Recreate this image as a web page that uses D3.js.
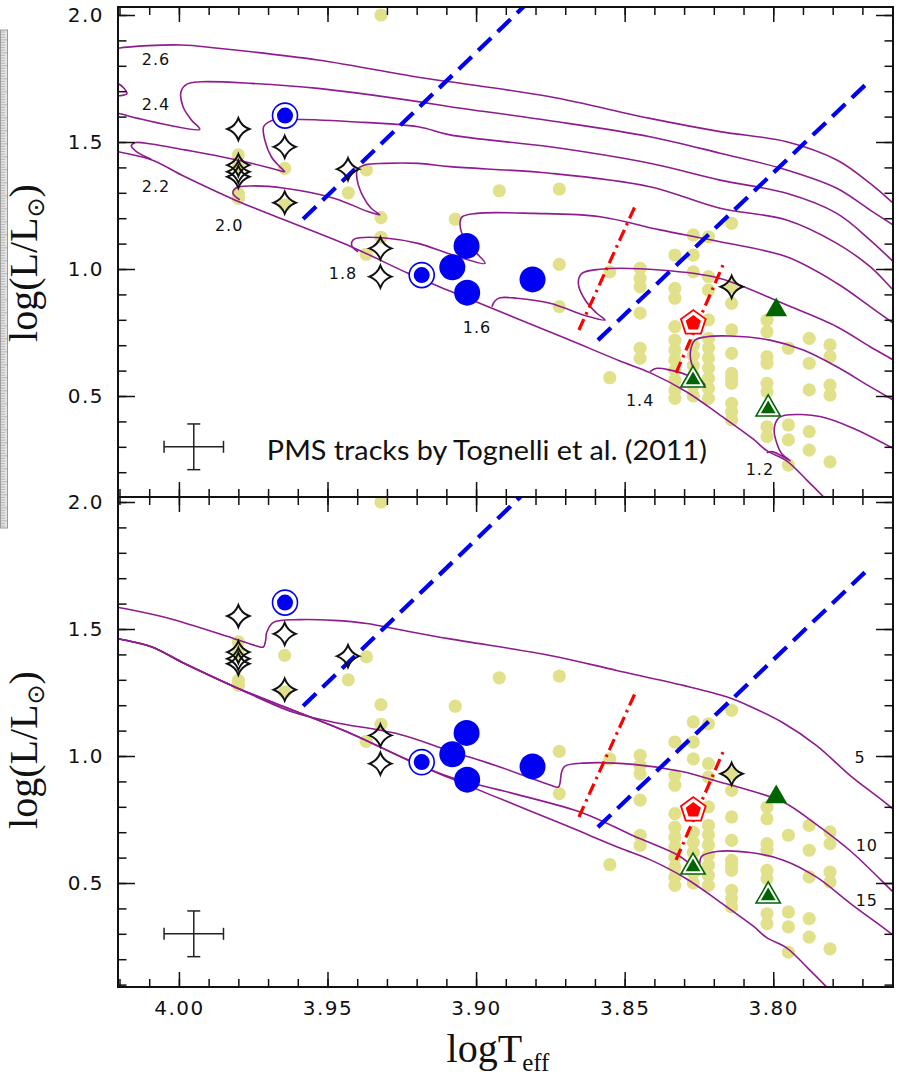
<!DOCTYPE html>
<html><head><meta charset="utf-8">
<script src="https://cdn.jsdelivr.net/npm/d3@7"></script>
<style>body{margin:0;background:#fff}</style>
</head><body>
<svg id="c" width="903" height="1081"></svg>
<script>
// ---------------- DATA ----------------
const xMajor = [4.00, 3.95, 3.90, 3.85, 3.80];
const yMajor = [0.5, 1.0, 1.5, 2.0];

const yellowDots = [
 [3.932,2.000],[3.980,1.449],[3.980,1.400],[3.980,1.298],[3.980,1.278],
 [3.9644,1.396],[3.9644,1.252],[3.9369,1.390],[3.943,1.300],[3.932,1.202],
 [3.932,1.125],[3.937,1.058],[3.907,1.196],[3.8922,1.308],[3.872,1.315],
 [3.872,1.018],[3.872,0.852],[3.855,0.989],[3.855,0.572],
 [3.8448,1.003],[3.8448,0.963],[3.8448,0.930],[3.8448,0.826],[3.8448,0.688],[3.8448,0.648],
 [3.8331,1.055],[3.8331,0.924],[3.8331,0.885],[3.8331,0.773],[3.8331,0.720],[3.8331,0.681],[3.8331,0.642],[3.8331,0.602],[3.8331,0.563],[3.8331,0.524],[3.8331,0.491],
 [3.8269,1.134],[3.8269,1.055],[3.8269,0.989],[3.8269,0.700],[3.8269,0.660],[3.8269,0.620],[3.8269,0.580],[3.8269,0.540],[3.8269,0.500],
 [3.8218,1.127],[3.8218,0.970],[3.8218,0.917],[3.8218,0.800],[3.8218,0.727],[3.8218,0.690],[3.8218,0.650],[3.8218,0.610],[3.8218,0.570],[3.8218,0.530],[3.8218,0.491],
 [3.8140,1.180],[3.8140,0.930],[3.8140,0.865],[3.8140,0.760],[3.8140,0.668],[3.8140,0.589],[3.8140,0.570],[3.8140,0.550],[3.8140,0.471],[3.8140,0.438],[3.8140,0.406],
 [3.8021,0.799],[3.8021,0.753],[3.8021,0.655],[3.8021,0.629],[3.8021,0.550],[3.8021,0.517],[3.8021,0.379],[3.8021,0.340],
 [3.7949,0.688],[3.7949,0.386],[3.7949,0.327],[3.7949,0.228],
 [3.7879,0.727],[3.7879,0.629],[3.7879,0.524],[3.7879,0.360],[3.7879,0.287],
 [3.7809,0.701],[3.7809,0.655],[3.7809,0.543],[3.7809,0.504],[3.7809,0.241]
];
const blueBig = [[3.9032,1.091],[3.908,1.007],[3.903,0.907],[3.881,0.959]];
const blueRing = [[3.9643,1.604],[3.9183,0.976]];
const stars = [[3.980,1.551],[3.9644,1.481],[3.980,1.409],[3.980,1.383],[3.980,1.363],
 [3.9644,1.261],[3.9431,1.393],[3.9322,1.081],[3.9322,0.970],[3.814,0.930]];
const pentagons = [[3.8269,0.787]];
const triFilled = [[3.799,0.839]];
const triRing = [[3.827,0.563],[3.8017,0.449]];
const errCenter = [3.995, 0.30];
const errSize = [0.01, 0.09];

const blueLine1 = [[3.9582,1.197],[3.8800,2.078]];
const blueLine2 = [[3.859,0.720],[3.768,1.736]];
const redLine1 = [[3.8654,0.760],[3.846,1.260]];
const redLine2 = [[3.8327,0.591],[3.8169,1.016]];

// PMS tracks (top panel)
const trk26 = [[3.754,1.20],[3.7596,1.259],[3.7674,1.337],[3.7786,1.429],[3.7955,1.501],[3.8179,1.541],[3.8415,1.593],[3.8751,1.678],[3.9088,1.737],[3.9195,1.755],[3.9532,1.823],[3.9868,1.869],[3.9993,1.882],[4.0205,1.869],[4.0262,1.850],[4.0280,1.800],[4.0250,1.745],[4.0205,1.730],[4.0185,1.712],[4.0175,1.690],[4.0200,1.682],[4.0260,1.672]];
const trk24 = [[3.754,1.13],[3.7596,1.173],[3.7674,1.232],[3.7786,1.318],[3.7955,1.390],[3.8179,1.456],[3.8415,1.521],[3.8751,1.584],[3.9088,1.639],[3.9195,1.659],[3.9532,1.711],[3.9756,1.731],[3.9925,1.737],[3.9973,1.728],[3.9993,1.698],[3.9986,1.639],[3.9958,1.587],[3.9930,1.550],[4.0037,1.567],[4.0138,1.593],[4.0205,1.613],[4.0266,1.626]];
const trk22 = [[3.754,0.967],[3.7596,1.029],[3.7674,1.114],[3.7786,1.219],[3.7955,1.298],[3.8179,1.350],[3.8415,1.416],[3.8751,1.481],[3.9088,1.528],[3.9195,1.560],[3.9420,1.580],[3.9644,1.589],[3.9689,1.584],[3.9715,1.560],[3.9711,1.508],[3.9689,1.442],[3.9661,1.403],[3.9644,1.383],[3.9678,1.393],[3.9756,1.416],[3.9869,1.445],[3.9981,1.469],[4.0093,1.492],[4.0149,1.497],[4.0160,1.484],[4.0143,1.462],[4.0093,1.432]];
const trk20 = [[3.754,0.85],[3.7596,0.917],[3.7674,1.009],[3.7786,1.101],[3.7955,1.193],[3.8179,1.239],[3.8415,1.324],[3.8751,1.377],[3.9088,1.403],[3.9195,1.416],[3.9308,1.416],[3.9375,1.409],[3.9400,1.390],[3.9400,1.350],[3.9380,1.285],[3.9353,1.239],[3.9324,1.213],[3.9364,1.226],[3.9476,1.278],[3.9644,1.318],[3.9756,1.327],[3.9807,1.320],[3.9818,1.298],[3.9795,1.272]];
const trk18 = [[3.754,0.74],[3.7596,0.786],[3.7674,0.852],[3.7786,0.944],[3.7955,1.048],[3.8179,1.107],[3.8381,1.154],[3.8583,1.206],[3.8807,1.219],[3.8998,1.219],[3.9047,1.205],[3.9054,1.173],[3.9037,1.114],[3.8998,1.062],[3.8970,1.022],[3.9088,1.059],[3.9195,1.101],[3.9306,1.122],[3.9391,1.123],[3.9414,1.114],[3.9418,1.091],[3.9397,1.068]];
const trk16 = [[3.754,0.604],[3.7596,0.642],[3.7674,0.694],[3.7786,0.773],[3.7955,0.858],[3.8179,0.963],[3.8381,0.996],[3.8583,0.999],[3.8644,0.983],[3.8656,0.944],[3.8633,0.878],[3.8594,0.826],[3.8566,0.799],[3.8628,0.815],[3.8751,0.865],[3.8863,0.885],[3.8919,0.887],[3.8936,0.875],[3.8947,0.852]];
const trk14 = [[3.754,0.446],[3.7596,0.484],[3.7674,0.537],[3.7786,0.615],[3.7899,0.681],[3.8011,0.720],[3.8146,0.736],[3.8224,0.733],[3.8263,0.720],[3.8278,0.681],[3.8275,0.629],[3.8252,0.576],[3.8230,0.543],[3.8291,0.583],[3.8347,0.602],[3.8392,0.609],[3.8415,0.596]];
const trk12 = [[3.754,0.261],[3.7596,0.294],[3.7731,0.373],[3.7843,0.419],[3.7955,0.425],[3.7983,0.412],[3.7997,0.366],[3.7988,0.314],[3.7972,0.274],[3.7943,0.245],[3.7977,0.268],[3.8005,0.281],[3.8022,0.277]];
const zams = [[4.0266,1.478],[4.0205,1.462],[4.0093,1.430],[3.9981,1.364],[3.9812,1.272],[3.9644,1.193],[3.9420,1.088],[3.9229,0.983],[3.9088,0.913],[3.8953,0.848],[3.8695,0.725],[3.8516,0.638],[3.8415,0.592],[3.8291,0.516],[3.8179,0.425],[3.8067,0.330],[3.8022,0.285],[3.7955,0.245],[3.7887,0.169],[3.7820,0.090],[3.7780,0.040]];

// Isochrones (bottom panel)
const iso5 = [[4.0266,1.601],[4.0205,1.586],[4.0041,1.544],[3.9817,1.463],[3.9738,1.433],[3.9716,1.429],[3.9708,1.456],[3.9705,1.485],[3.9682,1.526],[3.9593,1.537],[3.9480,1.534],[3.9368,1.522],[3.9256,1.497],[3.9088,1.461],[3.8751,1.396],[3.8527,1.337],[3.8303,1.278],[3.8157,1.233],[3.8079,1.196],[3.7966,1.130],[3.7854,1.041],[3.7741,0.923],[3.7596,0.790],[3.754,0.72]];
const iso10 = [[4.0266,1.478],[4.0205,1.462],[4.0093,1.430],[3.9981,1.364],[3.9812,1.272],[3.9615,1.172],[3.9480,1.133],[3.9256,1.085],[3.9088,1.020],[3.8920,0.957],[3.8751,0.886],[3.8723,0.878],[3.8712,0.938],[3.8701,0.960],[3.8639,0.972],[3.8471,0.967],[3.8303,0.938],[3.8190,0.901],[3.8078,0.864],[3.7966,0.819],[3.7854,0.730],[3.7741,0.627],[3.7596,0.464],[3.754,0.40]];
const iso15 = [[4.0266,1.478],[4.0205,1.462],[4.0093,1.430],[3.9981,1.364],[3.9812,1.272],[3.9644,1.193],[3.9420,1.088],[3.9229,0.985],[3.9088,0.917],[3.8863,0.849],[3.8639,0.775],[3.8471,0.686],[3.8325,0.612],[3.8269,0.568],[3.8252,0.560],[3.8241,0.605],[3.8190,0.624],[3.8078,0.620],[3.7966,0.590],[3.7854,0.523],[3.7741,0.420],[3.7596,0.294],[3.754,0.24]];

const massLabels = ['2.6','2.4','2.2','2.0','1.8','1.6','1.4','1.2'];
const massLabelPos = [[4.0077,1.823],[4.0077,1.646],[4.0077,1.323],[3.9831,1.173],[3.9448,0.984],[3.8997,0.768],[3.8448,0.484],[3.8045,0.209]];
const ageLabels = ['5','10','15'];
const ageLabelPos = [[3.7708,0.993],[3.7685,0.646],[3.7685,0.431]];
const noteText = 'PMS tracks by Tognelli et al. (2011)';
const notePos = [3.9704, 0.248];

// ---------------- DRAW ----------------
const svg = d3.select('#c');
const x = d3.scaleLinear().domain([4.0205, 3.7597]).range([118, 893]);
const xMinor = d3.range(377, 403).map(v => v / 100);
const yMinor = d3.range(1, 21).map(v => v / 10);

const panels = [
  {top: 7, bottom: 497, y: d3.scaleLinear().domain([0.1024, 2.0315]).range([497, 7]),
   tracks: [trk26, trk24, trk22, trk20, trk18, trk16, trk14, trk12, zams], labels: massLabels, labelPos: massLabelPos, note: true, xLabels: false},
  {top: 497, bottom: 987, y: d3.scaleLinear().domain([0.0906, 2.0197]).range([987, 497]),
   tracks: [iso5, iso10, iso15, zams], labels: ageLabels, labelPos: ageLabelPos, note: false, xLabels: true}
];

const purple = '#8e1c8e', yellow = '#e1e18b', blue = '#0000f2', green = '#006400', red = '#ff0000';

function starPath(R) {
  const a = R * 0.27;
  return `M0,${-R}Q${a},${-a} ${R},0Q${a},${a} 0,${R}Q${-a},${a} ${-R},0Q${-a},${-a} 0,${-R}Z`;
}
function polyPath(n, R, rot) {
  const pts = d3.range(n).map(k => {
    const t = rot + k * 2 * Math.PI / n;
    return [R * Math.cos(t), R * Math.sin(t)];
  });
  return 'M' + pts.map(p => p[0].toFixed(2) + ',' + p[1].toFixed(2)).join('L') + 'Z';
}

// ruler strip at left edge
const ruler = svg.append('g');
ruler.append('rect').attr('x', 0.5).attr('y', 30).attr('width', 7).attr('height', 498)
  .attr('fill', '#e4e4e4').attr('stroke', '#9a9a9a').attr('stroke-width', 1);
ruler.selectAll('line').data(d3.range(32, 527, 2.6)).join('line')
  .attr('x1', 1).attr('x2', d => (Math.round(d) % 13 < 3 ? 7 : 5)).attr('y1', d => d).attr('y2', d => d)
  .attr('stroke', '#a8a8a8').attr('stroke-width', 0.8);

panels.forEach((p, idx) => {
  const y = p.y;
  const g = svg.append('g');
  const clipId = 'clip' + idx;
  svg.append('clipPath').attr('id', clipId).append('rect')
    .attr('x', 118).attr('y', p.top).attr('width', 775).attr('height', p.bottom - p.top);
  const plot = g.append('g').attr('clip-path', `url(#${clipId})`);

  // yellow dots
  plot.append('g').selectAll('circle').data(yellowDots).join('circle')
    .attr('cx', d => x(d[0])).attr('cy', d => y(d[1])).attr('r', 6.6).attr('fill', yellow);

  // tracks
  const line = d3.line().x(d => x(d[0])).y(d => y(d[1])).curve(d3.curveCatmullRom.alpha(0.5));
  plot.append('g').selectAll('path').data(p.tracks).join('path')
    .attr('d', line).attr('fill', 'none').attr('stroke', purple).attr('stroke-width', 1.6);

  // dashed lines
  const sline = d3.line().x(d => x(d[0])).y(d => y(d[1]));
  [blueLine1, blueLine2].forEach(l => plot.append('path').attr('d', sline(l))
    .attr('stroke', blue).attr('stroke-width', 4.2).attr('stroke-dasharray', '18,9').attr('fill', 'none'));
  [redLine1, redLine2].forEach(l => plot.append('path').attr('d', sline(l))
    .attr('stroke', red).attr('stroke-width', 3.2).attr('stroke-dasharray', '12,5,2.5,5').attr('fill', 'none'));

  // blue big circles
  plot.append('g').selectAll('circle').data(blueBig).join('circle')
    .attr('cx', d => x(d[0])).attr('cy', d => y(d[1])).attr('r', 13).attr('fill', blue);
  // blue ringed circles
  const rg = plot.append('g').selectAll('g').data(blueRing).join('g')
    .attr('transform', d => `translate(${x(d[0])},${y(d[1])})`);
  rg.append('circle').attr('r', 12.5).attr('fill', '#fff').attr('stroke', blue).attr('stroke-width', 1.6);
  rg.append('circle').attr('r', 8).attr('fill', blue);

  // stars
  plot.append('g').selectAll('path').data(stars).join('path')
    .attr('transform', d => `translate(${x(d[0])},${y(d[1])})`)
    .attr('d', starPath(11)).attr('fill', 'none').attr('stroke', '#111').attr('stroke-width', 2);

  // pentagon
  const pg = plot.append('g').selectAll('g').data(pentagons).join('g')
    .attr('transform', d => `translate(${x(d[0])},${y(d[1])})`);
  pg.append('path').attr('d', polyPath(5, 13, -Math.PI / 2)).attr('fill', '#fff').attr('stroke', red).attr('stroke-width', 1.8);
  pg.append('path').attr('d', polyPath(5, 8, -Math.PI / 2)).attr('fill', red);

  // triangles
  plot.append('g').selectAll('path').data(triFilled).join('path')
    .attr('transform', d => `translate(${x(d[0])},${y(d[1])})`)
    .attr('d', polyPath(3, 12.5, -Math.PI / 2)).attr('fill', green);
  const tg = plot.append('g').selectAll('g').data(triRing).join('g')
    .attr('transform', d => `translate(${x(d[0])},${y(d[1])})`);
  tg.append('path').attr('d', polyPath(3, 14, -Math.PI / 2)).attr('fill', '#fff').attr('stroke', green).attr('stroke-width', 1.6);
  tg.append('path').attr('d', polyPath(3, 8.5, -Math.PI / 2)).attr('fill', green);

  // error bar
  const eb = g.append('g').attr('stroke', '#222').attr('stroke-width', 1.5);
  const cx = x(errCenter[0]), cy = y(errCenter[1]);
  const x1 = x(errCenter[0] + errSize[0]), x2 = x(errCenter[0] - errSize[0]);
  const y1 = y(errCenter[1] + errSize[1]), y2 = y(errCenter[1] - errSize[1]);
  eb.append('line').attr('x1', x1).attr('x2', x2).attr('y1', cy).attr('y2', cy);
  eb.append('line').attr('x1', cx).attr('x2', cx).attr('y1', y1).attr('y2', y2);
  eb.append('line').attr('x1', x1).attr('x2', x1).attr('y1', cy - 6).attr('y2', cy + 6);
  eb.append('line').attr('x1', x2).attr('x2', x2).attr('y1', cy - 6).attr('y2', cy + 6);
  eb.append('line').attr('x1', cx - 6.5).attr('x2', cx + 6.5).attr('y1', y1).attr('y2', y1);
  eb.append('line').attr('x1', cx - 6.5).attr('x2', cx + 6.5).attr('y1', y2).attr('y2', y2);

  // curve labels
  g.append('g').selectAll('text').data(p.labels).join('text')
    .attr('x', (d, i) => x(p.labelPos[i][0])).attr('y', (d, i) => y(p.labelPos[i][1]))
    .attr('text-anchor', 'middle').attr('dominant-baseline', 'central')
    .attr('font-family', 'DejaVu Sans').attr('font-size', 16).attr('letter-spacing', 1)
    .attr('fill', '#111').text(d => d);

  if (p.note) {
    g.append('text').attr('x', x(notePos[0])).attr('y', y(notePos[1]))
      .attr('font-family', 'Lato, DejaVu Sans').attr('font-size', 26)
      .attr('textLength', 440).attr('lengthAdjust', 'spacingAndGlyphs')
      .attr('fill', '#111').text(noteText);
  }

  // frame
  g.append('rect').attr('x', 118).attr('y', p.top).attr('width', 775).attr('height', p.bottom - p.top)
    .attr('fill', 'none').attr('stroke', '#111').attr('stroke-width', 2);

  // axes (ticks inward)
  const styleAxis = s => {
    s.select('.domain').remove();
    s.selectAll('line').attr('stroke', '#111').attr('stroke-width', 1.5);
    s.attr('font-family', 'DejaVu Sans').attr('font-size', 20).attr('letter-spacing', 1.5);
    s.selectAll('text').attr('fill', '#111');
  };
  g.append('g').attr('transform', `translate(0,${p.bottom})`)
    .call(d3.axisBottom(x).tickValues(xMinor).tickSize(-8).tickFormat('')).call(styleAxis);
  g.append('g').attr('transform', `translate(0,${p.bottom})`)
    .call(d3.axisBottom(x).tickValues(xMajor).tickSize(-15).tickPadding(14)
      .tickFormat(p.xLabels ? d3.format('.2f') : '')).call(styleAxis);
  g.append('g').attr('transform', `translate(0,${p.top})`)
    .call(d3.axisTop(x).tickValues(xMinor).tickSize(-8).tickFormat('')).call(styleAxis);
  g.append('g').attr('transform', `translate(0,${p.top})`)
    .call(d3.axisTop(x).tickValues(xMajor).tickSize(-15).tickFormat('')).call(styleAxis);
  const yMin = yMinor.filter(v => v >= y.domain()[0] && v <= y.domain()[1]);
  g.append('g').attr('transform', 'translate(118,0)')
    .call(d3.axisLeft(y).tickValues(yMin).tickSize(-8.5).tickFormat('')).call(styleAxis);
  g.append('g').attr('transform', 'translate(118,0)')
    .call(d3.axisLeft(y).tickValues(yMajor).tickSize(-17).tickPadding(14).tickFormat(d3.format('.1f'))).call(styleAxis);
  g.append('g').attr('transform', 'translate(893,0)')
    .call(d3.axisRight(y).tickValues(yMin).tickSize(-8.5).tickFormat('')).call(styleAxis);
  g.append('g').attr('transform', 'translate(893,0)')
    .call(d3.axisRight(y).tickValues(yMajor).tickSize(-17).tickFormat('')).call(styleAxis);

  // y title
  const yt = svg.append('text').attr('transform', `translate(37,${y(1.0) - 6}) rotate(-90)`)
    .attr('text-anchor', 'middle').attr('font-family', 'Liberation Serif, serif').attr('font-size', 40).attr('fill', '#111');
  yt.append('tspan').text('log(L/L');
  yt.append('tspan').attr('font-size', 24).attr('dy', 7).attr('font-family', 'DejaVu Sans').text('\u2299');
  yt.append('tspan').attr('dy', -7).text(')');
});

// x title
const xt = svg.append('text').attr('x', 498).attr('y', 1062).attr('text-anchor', 'middle')
  .attr('font-family', 'Liberation Serif, serif').attr('font-size', 40).attr('fill', '#111');
xt.append('tspan').text('logT');
xt.append('tspan').attr('font-size', 25).attr('dy', 9).text('eff');
</script>
</body></html>
